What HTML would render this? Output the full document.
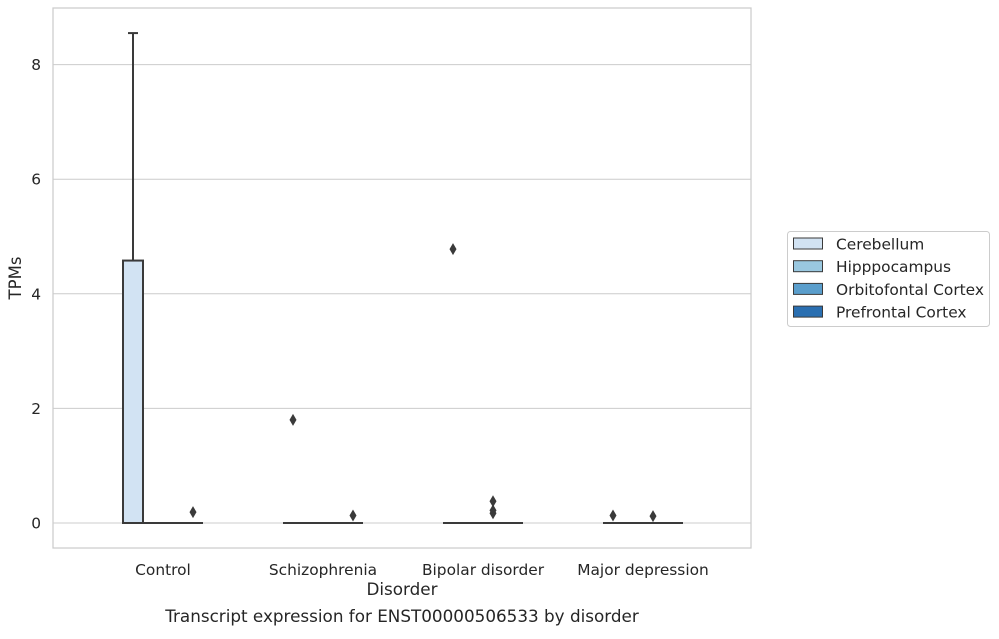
<!DOCTYPE html>
<html><head><meta charset="utf-8"><style>
body{margin:0;background:#fff;font-family:"Liberation Sans","DejaVu Sans",sans-serif;}
svg text{font-family:"DejaVu Sans","Liberation Sans",sans-serif;fill:#262626;}
</style></head><body>
<svg id="chart" width="999" height="634"></svg>
<script>
const categories=["Control","Schizophrenia","Bipolar disorder","Major depression"];
const hues=["Cerebellum","Hipppocampus","Orbitofontal Cortex","Prefrontal Cortex"];
const colors=["#d2e3f3","#9ac8e0","#5a9ecc","#2a6fb1"];
// box stats per [category][hue]: [whiskerLow,q1,median,q3,whiskerHigh]
const boxStats=[
 [[0,0,0,4.58,8.55],[0,0,0,0,0],[0,0,0,0,0],[0,0,0,0,0]],
 [[0,0,0,0,0],[0,0,0,0,0],[0,0,0,0,0],[0,0,0,0,0]],
 [[0,0,0,0,0],[0,0,0,0,0],[0,0,0,0,0],[0,0,0,0,0]],
 [[0,0,0,0,0],[0,0,0,0,0],[0,0,0,0,0],[0,0,0,0,0]]
];
// outliers: [categoryIndex, hueIndex, value]
const outliers=[[0,3,0.19],[1,0,1.8],[1,3,0.13],[2,0,4.78],[2,2,0.38],[2,2,0.22],[2,2,0.17],[3,0,0.13],[3,2,0.12]];
const yTicks=[0,2,4,6,8];

const NS="http://www.w3.org/2000/svg";
const svg=document.getElementById('chart');
const L=53,R=751,T=8,B=548;
const y=v=>523-v*57.3;
const step=160;
const xc=i=>163+step*i;
const hueW=20;
const hx=(i,h)=>xc(i)-40+h*hueW;
function mk(tag,attrs,parent){const e=document.createElementNS(NS,tag);for(const k in attrs)e.setAttribute(k,attrs[k]);(parent||svg).appendChild(e);return e;}

yTicks.forEach(t=>{
 const g=mk('line',{x1:L,x2:R,y1:y(t),y2:y(t),stroke:'#cccccc','stroke-width':1});
 
 
 const tx=mk('text',{x:L-12,y:y(t)+5.5,'text-anchor':'end','font-size':15.4});
 tx.textContent=t;
 
 
});
const frame=mk('rect',{x:L,y:T,width:R-L,height:B-T,fill:'none',stroke:'#cccccc','stroke-width':1.25});



categories.forEach((c,i)=>{
 const tx=mk('text',{x:xc(i),y:575,'text-anchor':'middle','font-size':15.4});
 tx.textContent=c;
 
 
 hues.forEach((h,j)=>{
  const s=boxStats[i][j];const x0=hx(i,j),xm=x0+hueW/2;
  if(s[4]>s[3]){
   const w=mk('line',{x1:xm,x2:xm,y1:y(s[3]),y2:y(s[4]),stroke:'#3a3a3a','stroke-width':2});
   
   
   const cap=mk('line',{x1:xm-5,x2:xm+5,y1:y(s[4]),y2:y(s[4]),stroke:'#3a3a3a','stroke-width':2});
   
   
  }
  const b=mk('rect',{x:x0,y:y(s[3]),width:hueW,height:Math.max(0,y(s[1])-y(s[3])),fill:colors[j],stroke:'#3a3a3a','stroke-width':2});
  
  
  const m=mk('line',{x1:x0,x2:x0+hueW,y1:y(s[2]),y2:y(s[2]),stroke:'#3a3a3a','stroke-width':2});
  
  
 });
});
outliers.forEach(o=>{
 const cx=hx(o[0],o[1])+hueW/2,cy=y(o[2]);
 const p=mk('path',{d:`M${cx},${cy-6}L${cx+3.5},${cy}L${cx},${cy+6}L${cx-3.5},${cy}Z`,fill:'#3a3a3a'});
 
 
});

const xt=mk('text',{x:402,y:595,'text-anchor':'middle','font-size':16.8});
xt.textContent='Disorder';


const yt=mk('text',{x:21,y:278,'text-anchor':'middle','font-size':16.5,transform:'rotate(-90 21 278)'});
yt.textContent='TPMs';


const ct=mk('text',{x:402,y:622,'text-anchor':'middle','font-size':16.8});
ct.textContent='Transcript expression for ENST00000506533 by disorder';



const lg=mk('rect',{x:787.5,y:231.5,width:202,height:95,rx:3,fill:'#fff',stroke:'#cccccc'});


hues.forEach((h,j)=>{
 const yy=238+j*22.7;
 const r=mk('rect',{x:793.5,y:yy,width:29,height:11,fill:colors[j],stroke:'#3a3a3a','stroke-width':1});
 
 
 const t=mk('text',{x:836,y:yy+11.5,'font-size':15.4});
 t.textContent=h;
 
 
});
</script>
</body></html>
